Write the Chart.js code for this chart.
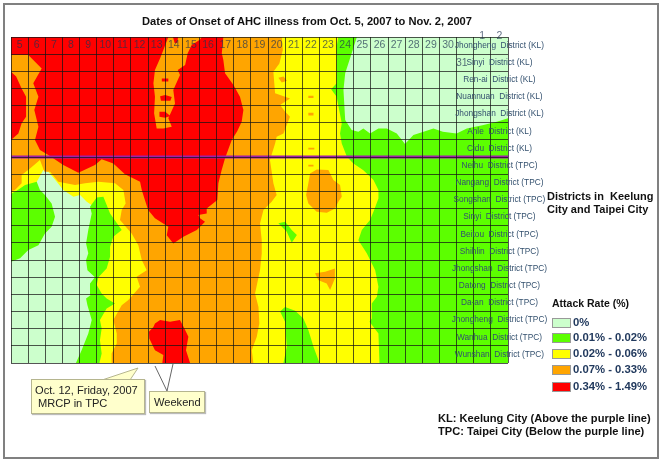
<!DOCTYPE html>
<html lang="en">
<head>
<meta charset="UTF-8">
<title>Dates of Onset of AHC illness</title>
<script src="https://cdn.jsdelivr.net/npm/chart.js@4.4.1/dist/chart.umd.min.js"></script>
<style>
    body { margin: 0; background: #fff; font-family: "Liberation Sans", Arial, sans-serif; }
    #wrap { position: relative; width: 661px; height: 463px; overflow: hidden; }
    #wrap canvas { position: absolute; left: 0; top: 0; }
    #frame { position: absolute; left: 3px; top: 3px; width: 652px; height: 452px; border: 2px solid #808080; }
    .note { position: absolute; white-space: pre; font-weight: bold; color: #111; }
    #title { left: 142px; top: 15px; font-size: 11.15px; line-height: 13px; }
    #side { left: 547px; top: 190px; font-size: 11px; line-height: 12.5px; }
    #rateTitle { left: 552px; top: 297px; font-size: 10.5px; line-height: 13px; }
    #keyNote { left: 438px; top: 412px; font-size: 11.1px; line-height: 13px; }
    .key { position: absolute; left: 552px; width: 17px; height: 8px; border: 1px solid #999; }
    .keyText { position: absolute; left: 573px; white-space: pre; font-weight: bold; font-size: 11.3px; line-height: 14px; color: #223a5e; }
    .call { position: absolute; white-space: pre; background: #ffffcc; border: 1px solid #b5b58f; box-shadow: 1px 1px 1px #bbb; color: #222; font-size: 11.1px; }
    #call1 { left: 31px; top: 379px; width: 109px; height: 33px; padding-left: 3px; line-height: 13px; padding-top: 4px; height: 29px; }
    #call2 { left: 149px; top: 391px; width: 50px; height: 20px; padding-left: 4px; line-height: 20px; }
    svg { position: absolute; left: 0; top: 0; }
</style>
</head>
<body>
<div id="wrap">
    <canvas id="chart" width="661" height="463"></canvas>
    <div id="frame"></div>
    <div class="note" id="title">Dates of Onset of AHC illness from Oct. 5, 2007 to Nov. 2, 2007</div>
    <div class="note" id="side">Districts in  Keelung
City and Taipei City</div>
    <div class="note" id="rateTitle">Attack Rate (%)</div>
    <div id="legend"></div>
    <div class="note" id="keyNote">KL: Keelung City (Above the purple line)
TPC: Taipei City (Below the purple line)</div>
    <svg width="661" height="463">
        <polygon points="102,380 138,368 130,380" fill="#ffffcc" stroke="#b5b58f"/>
        <polyline points="155,366 167,391 173,364" fill="none" stroke="#666"/>
    </svg>
    <div class="call" id="call1">Oct. 12, Friday, 2007
 MRCP in TPC</div>
    <div class="call" id="call2">Weekend</div>
</div>

<script>
    // x is in day columns (0 = left edge of Oct 5), y is in district rows (0 = top)
    const dayLabels = ['5','6','7','8','9','10','11','12','13','14','15','16','17','18','19','20','21','22','23','24','25','26','27','28','29','30','31','1','2'];
    const districtLabels = [
        'Jhongheng  District (KL)', 'Sinyi  District (KL)', 'Ren-ai  District (KL)', 'Nuannuan  District (KL)',
        'Jhongshan  District (KL)', 'Anle  District (KL)', 'Cidu  District (KL)', 'Neihu  District (TPC)',
        'Nangang  District (TPC)', 'Songshan  District (TPC)', 'Sinyi  District (TPC)', 'Beitou  District (TPC)',
        'Shihlin  District (TPC)', 'Jhongshan  District (TPC)', 'Datong  District (TPC)', 'Da-an  District (TPC)',
        'Jhongheng  District (TPC)', 'Wanhua  District (TPC)', 'Wunshan  District (TPC)'
    ];
    const rateLabels = ['0%', '0.01% - 0.02%', '0.02% - 0.06%', '0.07% - 0.33%', '0.34% - 1.49%'];
    const rateColors = ['#ccffcc', '#5cff00', '#ffff00', '#ffa500', '#ff0000'];
    const keelungTaipeiSplit = 7;

    const wholeArea = [[0,0],[29,0],[29,19],[0,19]];
    const yellowArea = [[0,0],[19.1,0],[19,.56],[19,2.7],[18.68,3.05],[19,3.48],[19.3,5.03],[19.2,5.62],[19.3,6.2],[19.6,6.98],[19.98,7.37],[20.56,7.76],[21.15,8.34],[21.44,8.92],[21.44,9.41],[21.15,10.18],[20.95,10.67],[20.47,11.25],[20.27,11.84],[20.76,12.61],[21.25,13.6],[21.44,14.56],[21.35,15.14],[21.05,15.53],[21.05,16.4],[20.92,16.6],[21.44,17.28],[21.5,19],[0,19]];
    const paleUpper = [[20.18,0],[19.88,.95],[19.5,2.12],[19.4,3.09],[19.5,4.84],[19.88,5.42],[20.27,5.52],[20.56,5.33],[20.95,5.62],[21.44,5.33],[21.93,5.33],[22.51,5.62],[22.99,6.24],[23.48,5.71],[24.07,5.52],[24.65,5.33],[25.2,5.52],[26,5.62],[26.6,5.33],[27.57,5.13],[28.35,4.94],[29,4.74],[29,0]];
    const paleLower = [[1.5,8.44],[1.89,7.75],[2.18,7.85],[2.67,8.44],[3.05,8.92],[3.64,9.31],[4.03,9.21],[4.42,9.6],[5,10],[5,19],[0,19],[0,12],[1.5,9]];
    const greenLeft = [[0,9.14],[.33,8.96],[.82,8.63],[1.5,8.44],[1.69,8.92],[1.98,9.21],[2.37,9.7],[2.57,10.48],[2.37,11.06],[1.98,11.45],[1.6,12.13],[1.01,12.42],[.53,12.9],[0,13.1]];
    const greenMiddle = [[3.79,19],[4.12,18.25],[4.51,17.28],[4.71,16.5],[4.46,15.63],[4.38,15.24],[4.65,15.04],[4.61,14.36],[4.9,14],[4.46,13.6],[4.38,13],[4.51,12.6],[4.38,12.03],[4.51,11.25],[4.71,10.28],[4.61,9.89],[5,9.35],[5.39,9.31],[5.78,10.28],[6.46,11.25],[5.97,11.64],[5.78,12.22],[5.78,12.81],[5.58,13.49],[5.1,14],[5,14.46],[5.29,14.95],[5.58,15.24],[6.07,15.53],[5.58,15.82],[5.19,16.5],[5.29,16.99],[5.19,17.67],[5.29,18.45],[5.16,19]];
    const greenBottom = [[15.9,19],[16.09,18.06],[15.99,16.6],[15.7,16],[15.99,15.73],[16.58,15.96],[17.06,16.4],[17.35,17.08],[17.65,18.06],[18,19]];
    const greenSmall = [[15.6,10.86],[16,10.77],[16.38,11.25],[16.68,11.54],[16.38,11.99],[16.09,11.35]];
    const orangeArea = [[0,0],[15.8,0],[15.86,.76],[15.66,1.54],[15.31,2.02],[15.41,3.28],[16.28,3.58],[15.7,3.96],[16,4.35],[16.28,4.65],[16.09,5.13],[15.9,5.62],[15.5,5.81],[15.41,6.2],[15.11,7.17],[15.31,8.53],[15.5,9.21],[15.21,9.6],[14.73,10.09],[14.53,10.87],[14.63,11.84],[14.63,12.62],[14.53,13.6],[14.24,14.95],[14.44,15.73],[14.49,16.7],[14.34,17.47],[14.05,18.25],[14.14,19],[5.87,19],[5.87,18.45],[6.17,17.87],[6.17,17.28],[5.97,16.5],[6.46,15.63],[6.85,15.33],[7.53,14.56],[7.33,13.97],[7.92,13.6],[7.63,13],[7.43,12.13],[7.04,11.45],[6.36,10.67],[6.46,10.09],[6.69,9.7],[6.56,8.92],[6.07,8.53],[5.1,8.44],[4.32,8.53],[3.74,8.63],[2.76,8.44],[2.28,7.85],[1.95,7.86],[1.69,7.17],[1.11,7.66],[.62,8.05],[.62,8.53],[.23,8.92],[0,9]];
    const orangeOval = [[17.45,7.95],[17.84,7.72],[18.52,7.75],[18.81,8.34],[19.2,8.63],[19.3,9.31],[19.1,9.6],[18.91,10],[18.43,10.24],[17.84,10.18],[17.35,9.7],[17.22,9.21],[17.35,8.53]];
    const orangeStar = [[17.74,13.77],[18.33,13.68],[18.9,13.49],[18.9,14.07],[18.62,14.75],[18.42,14.37],[17.94,14.17]];
    const orangeSpecks = [
        [[15.6,2.37],[15.9,2.3],[16.1,2.55],[15.8,2.65]],
        [[17.35,3.42],[17.65,3.42],[17.65,3.55],[17.35,3.55]],
        [[17.35,4.42],[17.65,4.42],[17.65,4.58],[17.35,4.58]],
        [[17.35,6.45],[17.7,6.45],[17.7,6.55],[17.35,6.55]],
        [[17.35,7.45],[17.65,7.45],[17.65,7.55],[17.35,7.55]]
    ];
    const redMain = [[0,0],[12.39,0],[12.3,.95],[12.39,1.34],[12.49,2.12],[12.98,2.8],[13.36,3.48],[13.56,4.26],[13.46,4.94],[13.2,5.5],[12.88,6],[12.49,7.07],[12.29,7.76],[12.1,8.53],[12.04,9.5],[11.42,9.99],[11.42,10.28],[10.93,10.38],[11.03,10.57],[11.32,10.77],[10.84,11.25],[10.06,11.64],[9.47,12.03],[9.09,11.55],[9.18,11.06],[8.4,10.57],[8,10.09],[7.63,8.92],[7.53,8.44],[6.65,8],[5.97,7.37],[5.29,7.13],[4.9,7.46],[3.93,7.91],[3.05,7.46],[2.18,6.88],[1.69,6.59],[1.4,6],[1.6,5.23],[1.36,4.26],[1.6,3.48],[1.3,2.7],[1.79,1.83],[1.01,1.05],[0,1.05]];
    const redLeft = [[0,2.02],[.3,2.3],[.62,3],[.88,3.48],[.88,4.65],[.62,5.03],[.43,5.62],[0,6]];
    const orangeGap = [[9.18,0],[8.89,.76],[8.7,1.24],[8.4,1.92],[8.31,2.7],[8.4,3.48],[8.35,4.45],[8.5,5.33],[8.89,5.33],[9.38,5.23],[9.18,4.74],[9.57,3.87],[9.47,3.09],[9.86,2.22],[9.73,1.92],[10.16,1.63],[10.31,.95],[10.54,.47],[10.84,.27],[11.03,.14],[11.13,0]];
    const redSpecks = [
        [[8.8,2.42],[9.18,2.42],[9.18,2.6],[8.8,2.6]],
        [[8.7,3.45],[9,3.38],[9.38,3.5],[9.3,3.71],[8.75,3.71]],
        [[8.66,4.35],[9,4.35],[9.3,4.6],[8.99,4.7],[8.66,4.65]],
        [[9.45,0],[9.75,0],[9.7,.35],[9.55,.35]]
    ];
    const redBottom = [[8.4,16.7],[8.7,16.5],[9.28,16.6],[9.86,16.5],[10.16,17.08],[10.35,17.47],[10.21,18.25],[10.45,19],[8.83,19],[8.89,18.54],[8.4,18.25],[8.07,17.57],[8.05,17.18],[8.31,16.9]];

    const [pale, green, yellow, orange, red] = rateColors;

    // painted in this order, later areas cover earlier ones
    const areas = [
        [wholeArea, green], [yellowArea, yellow], [paleUpper, pale], [paleLower, pale],
        [greenLeft, green], [greenMiddle, green], [greenBottom, green], [greenSmall, green],
        [orangeArea, orange], [orangeOval, orange], [orangeStar, orange],
        ...orangeSpecks.map(p => [p, orange]),
        [redMain, red], [redLeft, red], [redBottom, red], [orangeGap, orange],
        ...redSpecks.map(p => [p, red])
    ];

    const datasets = areas.map(([pts, color], i) => ({
        data: pts.map(([x, y]) => ({ x, y })),
        showLine: true,
        fill: 'shape',
        backgroundColor: color,
        borderWidth: 0,
        pointRadius: 0,
        order: areas.length + 1 - i
    }));
    datasets.push({
        data: [{ x: 0, y: keelungTaipeiSplit }, { x: 29, y: keelungTaipeiSplit }],
        showLine: true,
        borderColor: '#a01fa8',
        borderWidth: 3,
        pointRadius: 0,
        order: 0
    });

    // day numbers and district names sit inside the grid
    const cellLabels = {
        id: 'cellLabels',
        afterDraw(chart) {
            const { ctx, scales: { x, y } } = chart;
            ctx.save();
            ctx.textAlign = 'center';
            ctx.textBaseline = 'middle';
            ctx.font = '10.5px "Liberation Sans"';
            ctx.fillStyle = 'rgba(30,50,80,0.72)';
            dayLabels.forEach((text, i) => {
                let col = i + 0.5, row = 0.5;
                if (text === '31') { col = i + 0.3; row = 1.5; }
                if (i > 26) row = -0.05;
                ctx.fillText(text, x.getPixelForValue(col), y.getPixelForValue(row));
            });
            ctx.font = '8.3px "Liberation Sans"';
            ctx.fillStyle = '#33506e';
            districtLabels.forEach((text, i) => {
                ctx.fillText(text, x.getPixelForValue(28.5), y.getPixelForValue(i + 0.5));
            });
            ctx.restore();
        }
    };

    const legendBox = document.getElementById('legend');
    const keyTops = [318, 333, 349, 365, 382];
    rateLabels.forEach((text, i) => {
        legendBox.insertAdjacentHTML('beforeend',
            `<div class="key" style="top:${keyTops[i]}px;background:${rateColors[i]}"></div>` +
            `<div class="keyText" style="top:${keyTops[i] - 3}px">${text}</div>`);
    });

    const gridLines = { color: 'rgba(20,20,20,0.72)', lineWidth: 1, drawTicks: false, z: 1 };

    new Chart(document.getElementById('chart').getContext('2d'), {
        type: 'scatter',
        data: { datasets },
        plugins: [cellLabels],
        options: {
            responsive: false,
            animation: false,
            events: [],
            layout: { padding: { left: 11, right: 153, top: 37, bottom: 100 } },
            plugins: { legend: { display: false }, title: { display: false }, tooltip: { enabled: false } },
            scales: {
                x: {
                    type: 'linear', min: 0, max: dayLabels.length,
                    ticks: { display: false, stepSize: 1, autoSkip: false },
                    grid: gridLines, border: { display: false }
                },
                y: {
                    type: 'linear', min: 0, max: districtLabels.length, reverse: true,
                    ticks: { display: false, stepSize: 1, autoSkip: false },
                    grid: gridLines, border: { display: false }
                }
            }
        }
    });
</script>
</body>
</html>
